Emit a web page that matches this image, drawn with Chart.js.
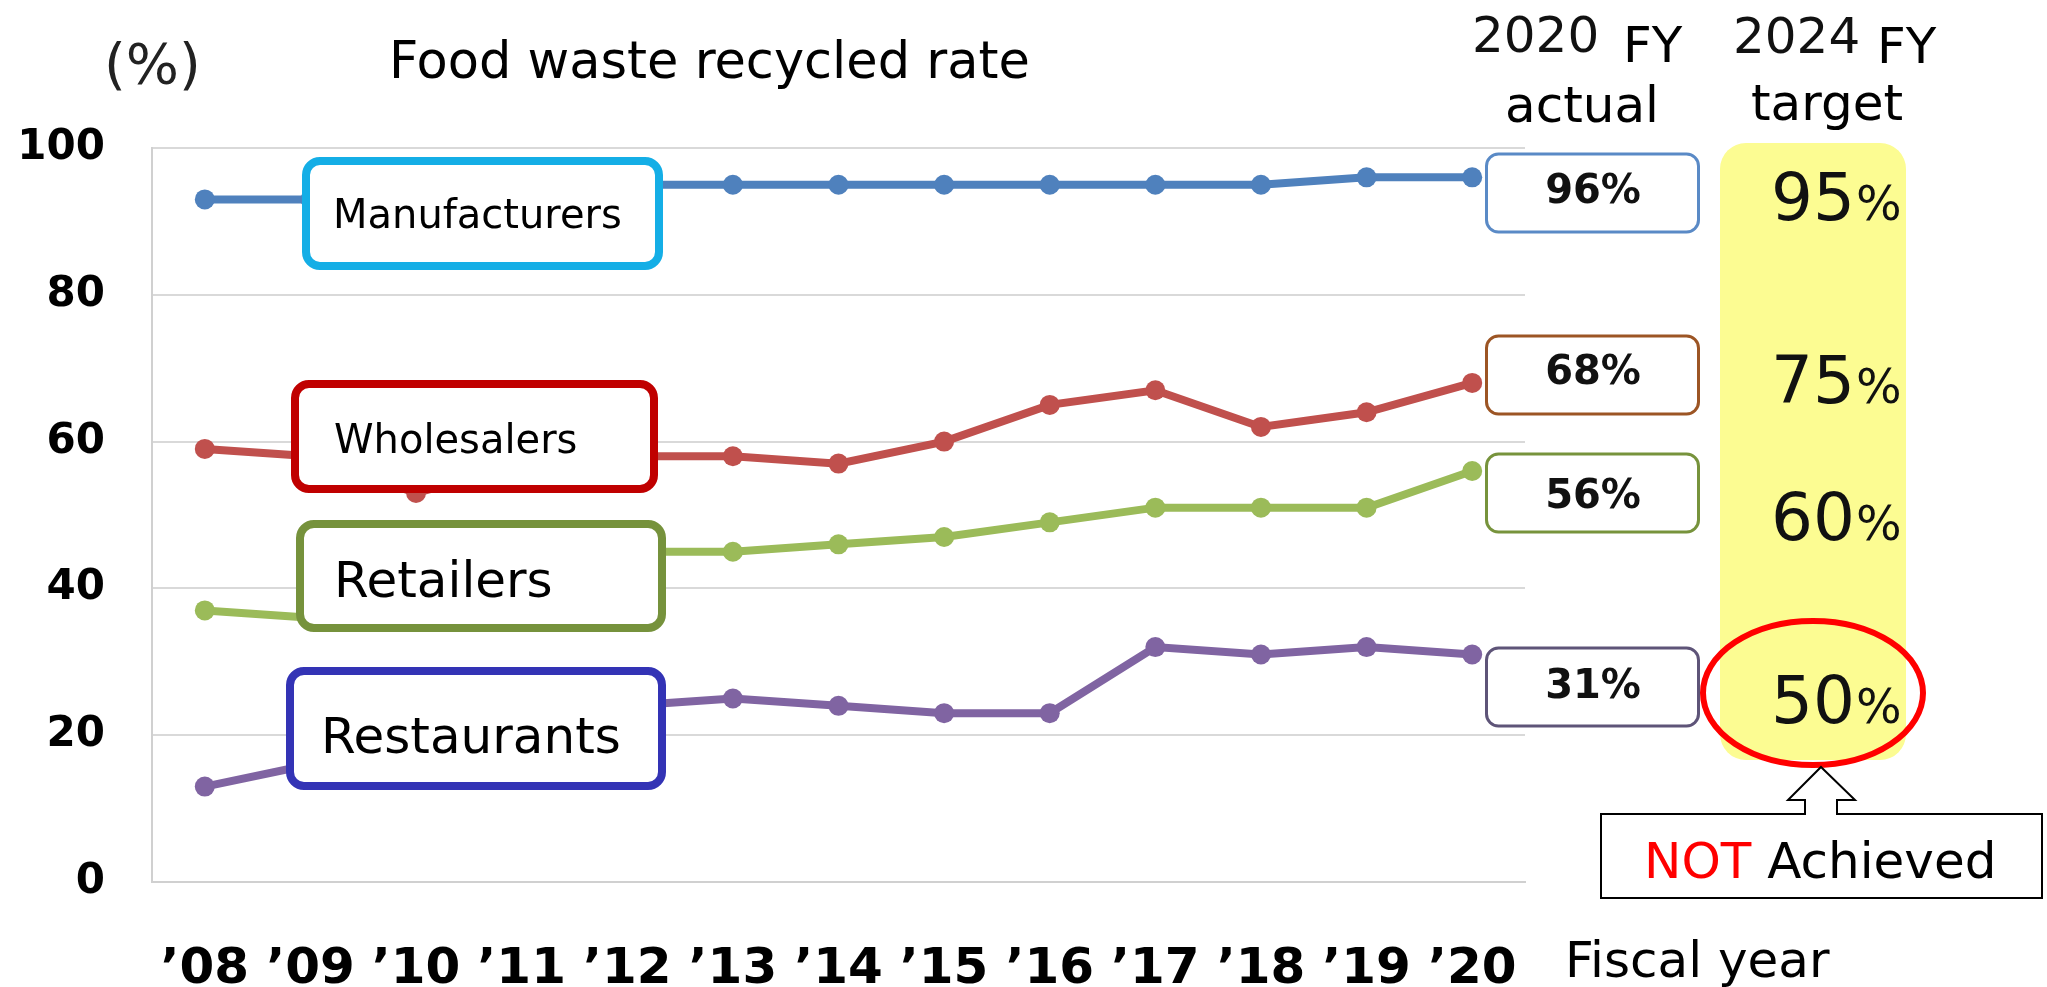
<!DOCTYPE html>
<html>
<head>
<meta charset="utf-8">
<script src="https://cdn.jsdelivr.net/npm/chart.js@4.4.1/dist/chart.umd.min.js"></script>
<style>
  body { margin: 0; background: #fff; }
  #chart { display: block; }
</style>
</head>
<body>
<canvas id="chart" width="2047" height="987"></canvas>
<script>
// Data
const years = ['\u201908', '\u201909', '\u201910', '\u201911', '\u201912', '\u201913', '\u201914',
  '\u201915', '\u201916', '\u201917', '\u201918', '\u201919', '\u201920'];
const manufacturers = [93, 93, 94, 95, 95, 95, 95, 95, 95, 95, 95, 96, 96];
const wholesalers = [59, 58, 53, 57, 58, 58, 57, 60, 65, 67, 62, 64, 68];
const retailers = [37, 36, 37, 41, 45, 45, 46, 47, 49, 51, 51, 51, 56];
const restaurants = [13, 16, 17, 23, 24, 25, 24, 23, 23, 32, 31, 32, 31];
const seriesNames = ['Manufacturers', 'Wholesalers', 'Retailers', 'Restaurants'];
const targets2024 = [95, 75, 60, 50];
const yTicks = [0, 20, 40, 60, 80, 100];

const FONT = "'DejaVu Sans', Verdana, sans-serif";

// Colors
const blueColor = '#4f81bd',
  redColor = '#c0504d',
  greenColor = '#9bbb59',
  purpleColor = '#8064a2';

function roundBox(ctx, x, y, w, h, r, stroke, lw) {
  ctx.beginPath();
  ctx.roundRect(x, y, w, h, r);
  ctx.fillStyle = '#ffffff';
  ctx.fill();
  ctx.lineWidth = lw;
  ctx.strokeStyle = stroke;
  ctx.stroke();
}

function text(ctx, str, x, y, size, color, weight, align) {
  ctx.font = (weight || 'normal') + ' ' + size + 'px ' + FONT;
  ctx.fillStyle = color || '#000';
  ctx.textAlign = align || 'left';
  ctx.textBaseline = 'alphabetic';
  ctx.fillText(str, x, y);
}

// annotations drawn on top of the lines
const annotations = {
  id: 'annotations',
  afterDatasetsDraw(chart) {
    const ctx = chart.ctx;
    ctx.save();

    // header texts
    text(ctx, '(%)', 104, 83, 56, '#222');
    text(ctx, 'Food waste recycled rate', 389, 78, 51, '#000');
    text(ctx, '2020', 1472, 52, 50, '#111');
    text(ctx, 'FY', 1623, 62, 50, '#000');
    text(ctx, 'actual', 1505, 122, 50, '#000');
    text(ctx, '2024', 1733, 53, 50, '#111');
    text(ctx, 'FY', 1877, 63, 50, '#000');
    text(ctx, 'target', 1751, 120, 50, '#000');
    text(ctx, 'Fiscal year', 1565, 977, 50, '#000');

    // series name boxes
    roundBox(ctx, 306, 161, 353, 105, 14, '#14aee6', 8);
    text(ctx, seriesNames[0], 333, 228, 40);
    roundBox(ctx, 295, 384, 359, 105, 14, '#c00000', 8);
    text(ctx, seriesNames[1], 334, 453, 40);
    roundBox(ctx, 300, 524, 362, 104, 14, '#76923c', 8);
    text(ctx, seriesNames[2], 334, 597, 50);
    roundBox(ctx, 290, 671, 372, 115, 14, '#3333b5', 8);
    text(ctx, seriesNames[3], 321, 753, 50);

    // 2020 actual boxes
    const actual = [manufacturers, wholesalers, retailers, restaurants].map(s => s[s.length - 1]);
    const boxTop = [154, 336, 454, 648];
    const boxColor = ['#5a8ac6', '#9c5524', '#77933c', '#5e5478'];
    const baseY = [203, 384, 508, 698];
    for (let i = 0; i < 4; i++) {
      roundBox(ctx, 1486.5, boxTop[i], 212, 78, 12, boxColor[i], 3);
      text(ctx, actual[i] + '%', 1593, baseY[i], 40, '#111', 'bold', 'center');
    }

    // yellow target band
    ctx.beginPath();
    ctx.roundRect(1720, 143, 186, 617, 26);
    ctx.fillStyle = '#fcfc92';
    ctx.fill();

    const targetY = [220, 403, 540, 723];
    for (let i = 0; i < 4; i++) {
      text(ctx, String(targets2024[i]), 1855, targetY[i], 66, '#111', 'normal', 'right');
      text(ctx, '%', 1856, targetY[i], 48, '#111');
    }

    // red ellipse
    ctx.beginPath();
    ctx.ellipse(1813, 693, 110, 72, 0, 0, Math.PI * 2);
    ctx.lineWidth = 6;
    ctx.strokeStyle = '#ff0000';
    ctx.stroke();

    // arrow + NOT Achieved box
    ctx.beginPath();
    ctx.moveTo(1821, 767);
    ctx.lineTo(1855, 800);
    ctx.lineTo(1837, 800);
    ctx.lineTo(1837, 814);
    ctx.lineTo(1805, 814);
    ctx.lineTo(1805, 800);
    ctx.lineTo(1788, 800);
    ctx.closePath();
    ctx.fillStyle = '#fff';
    ctx.fill();
    ctx.lineWidth = 2;
    ctx.strokeStyle = '#000';
    ctx.stroke();

    ctx.fillStyle = '#fff';
    ctx.fillRect(1601, 814, 441, 84);
    ctx.strokeRect(1601, 814, 441, 84);
    ctx.fillStyle = '#fff';
    ctx.fillRect(1806, 812, 30, 4);

    text(ctx, 'NOT', 1644, 878, 50, '#ff0000');
    ctx.font = '50px ' + FONT;
    const w = ctx.measureText('NOT ').width;
    text(ctx, 'Achieved', 1644 + w, 878, 50, '#000');

    ctx.restore();
  }
};

function series(label, data, color) {
  return {
    label: label,
    data: data,
    borderColor: color,
    backgroundColor: color,
    borderWidth: 8,
    pointRadius: 10,
    pointBorderWidth: 0,
    pointBackgroundColor: color,
    tension: 0
  };
}

document.addEventListener('DOMContentLoaded', function() {
  const el = document.getElementById('chart');
  new Chart(el, {
    type: 'line',
    data: {
      labels: years,
      datasets: [
        series(seriesNames[0], manufacturers, blueColor),
        series(seriesNames[1], wholesalers, redColor),
        series(seriesNames[2], retailers, greenColor),
        series(seriesNames[3], restaurants, purpleColor)
      ]
    },
    options: {
      responsive: false,
      animation: false,
      devicePixelRatio: 1,
      layout: {
        padding: { left: 0, right: 522, top: 148, bottom: 0 }
      },
      plugins: {
        legend: { display: false },
        tooltip: { enabled: false }
      },
      scales: {
        x: {
          type: 'category',
          offset: true,
          grid: { display: false },
          border: { display: true, color: '#d0d0d0', width: 2 },
          ticks: {
            color: '#000',
            padding: 50,
            maxRotation: 0,
            autoSkip: false,
            font: { family: FONT, size: 50, weight: 'bold' }
          },
          afterFit(scale) { scale.height = 105; }
        },
        y: {
          min: 0,
          max: 100,
          afterBuildTicks(scale) { scale.ticks = yTicks.map(v => ({ value: v })); },
          grid: { color: '#d9d9d9', lineWidth: 2, drawTicks: false },
          border: { display: true, color: '#d0d0d0', width: 2 },
          ticks: {
            color: '#000',
            padding: 47,
            font: { family: FONT, size: 42, weight: 'bold' }
          },
          afterFit(scale) { scale.width = 152; }
        }
      }
    },
    plugins: [annotations]
  });
});
</script>
</body>
</html>
